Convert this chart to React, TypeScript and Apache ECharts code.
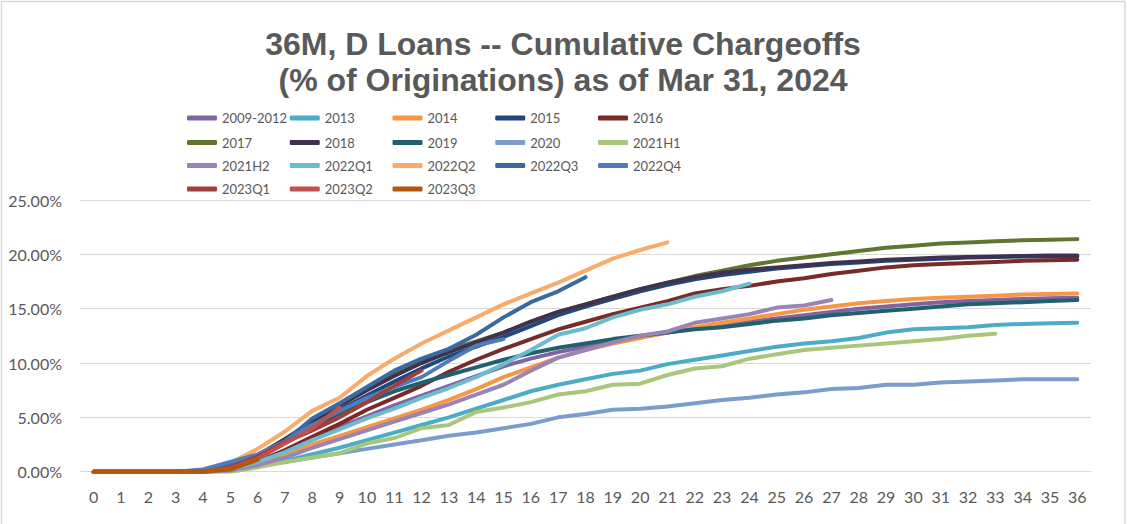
import React, { useEffect, useRef } from "react";
import * as echarts from "echarts";

const months = Array.from({ length: 37 }, (_, i) => String(i));

const s2009_2012 = [0,0,0,0,0,0.2,0.9,1.9,3.0,4.1,5.1,6.1,7.0,7.9,8.8,9.7,10.4,11.0,11.5,12.0,12.4,12.8,13.2,13.5,13.8,14.1,14.4,14.7,15.0,15.2,15.4,15.6,15.7,15.8,15.9,15.95,16.0];
const s2013 = [0,0,0,0,0,0.1,0.5,1.0,1.6,2.2,2.9,3.6,4.3,5.0,5.8,6.6,7.4,8.0,8.5,9.0,9.3,9.9,10.3,10.7,11.1,11.5,11.8,12.0,12.3,12.8,13.1,13.2,13.3,13.5,13.6,13.65,13.7];
const s2014 = [0,0,0,0,0,0.2,0.8,1.6,2.5,3.3,4.1,4.9,5.7,6.6,7.6,8.7,9.6,10.5,11.2,11.8,12.3,12.8,13.3,13.7,14.1,14.5,14.9,15.2,15.5,15.7,15.9,16.0,16.1,16.2,16.3,16.35,16.4];
const s2015 = [0,0,0,0,0,0.3,1.3,2.7,4.2,5.7,7.0,8.3,9.5,10.6,11.5,12.4,13.4,14.4,15.2,15.9,16.6,17.2,17.7,18.1,18.4,18.7,18.9,19.1,19.25,19.4,19.5,19.6,19.7,19.75,19.8,19.8,19.8];
const s2016 = [0,0,0,0,0,0.2,0.9,2.0,3.2,4.4,5.7,6.8,7.9,9.2,10.3,11.3,12.2,13.1,13.8,14.5,15.1,15.7,16.4,16.8,17.1,17.5,17.8,18.2,18.5,18.8,19.0,19.1,19.2,19.3,19.4,19.45,19.5];
const s2017 = [0,0,0,0,0,0.4,1.5,3.0,4.6,6.1,7.6,9.0,10.3,11.2,12.0,12.8,13.8,14.7,15.4,16.1,16.8,17.4,18.0,18.5,19.0,19.4,19.7,20.0,20.3,20.6,20.8,21.0,21.1,21.2,21.3,21.35,21.4];
const s2018 = [0,0,0,0,0,0.4,1.5,3.0,4.6,6.1,7.5,8.8,10.0,11.0,11.9,12.8,13.8,14.7,15.4,16.1,16.8,17.4,17.9,18.3,18.6,18.8,19.0,19.2,19.35,19.5,19.6,19.7,19.75,19.8,19.85,19.9,19.9];
const s2019 = [0,0,0,0,0.1,0.5,1.5,2.8,4.1,5.3,6.4,7.4,8.2,8.9,9.6,10.3,10.9,11.4,11.8,12.2,12.5,12.8,13.1,13.3,13.6,13.9,14.1,14.4,14.6,14.8,15.0,15.2,15.4,15.5,15.6,15.7,15.8];
const s2020 = [0,0,0,0,0,0.1,0.5,0.9,1.3,1.7,2.1,2.5,2.9,3.3,3.6,4.0,4.4,5.0,5.3,5.7,5.8,6.0,6.3,6.6,6.8,7.1,7.3,7.6,7.7,8.0,8.0,8.2,8.3,8.4,8.5,8.5,8.5];
const s2021H1 = [0,0,0,0,0,0.0,0.4,0.9,1.3,1.7,2.6,3.1,4.0,4.3,5.5,5.9,6.4,7.1,7.4,8.0,8.1,8.9,9.5,9.7,10.4,10.8,11.2,11.4,11.6,11.8,12.0,12.2,12.5,12.7];
const s2021H2 = [0,0,0,0,0,0.1,0.6,1.3,2.2,3.0,3.8,4.6,5.4,6.2,7.1,8.0,9.3,10.5,11.2,11.9,12.5,12.9,13.7,14.1,14.5,15.1,15.3,15.8];
const s2022Q1 = [0,0,0,0,0,0.2,0.9,1.8,2.9,3.9,4.9,5.8,6.8,7.7,8.7,9.9,11.2,12.6,13.2,14.2,14.9,15.4,16.1,16.6,17.3];
const s2022Q2 = [0,0,0,0,0.1,0.8,2.1,3.7,5.6,6.8,8.8,10.4,11.8,13.0,14.2,15.4,16.4,17.4,18.5,19.6,20.4,21.1];
const s2022Q3 = [0,0,0,0,0.1,0.6,1.5,2.8,4.9,6.3,7.8,9.3,10.4,11.3,12.6,14.2,15.6,16.6,17.9];
const s2022Q4 = [0,0,0,0,0.2,0.9,1.6,2.8,4.3,5.6,6.8,7.8,8.7,10.2,11.6,12.2];
const s2023Q1 = [0,0,0,0,0,0.4,1.4,2.7,3.8,5.0,6.4,7.9,9.3];
const s2023Q2 = [0,0,0,0,0,0.3,1.2,2.6,4.0,5.9];
const s2023Q3 = [0,0,0,0,0,0.2,1.1];

const seriesNames = ["2009-2012","2013","2014","2015","2016","2017","2018","2019","2020","2021H1","2021H2","2022Q1","2022Q2","2022Q3","2022Q4","2023Q1","2023Q2","2023Q3"];
const seriesData = [s2009_2012,s2013,s2014,s2015,s2016,s2017,s2018,s2019,s2020,s2021H1,s2021H2,s2022Q1,s2022Q2,s2022Q3,s2022Q4,s2023Q1,s2023Q2,s2023Q3];
const seriesColors = ["#8064A2","#4BACC6","#F79646","#1F497D","#772C2A","#5F7530","#403151","#22606F","#7B9DCB","#A9C77A","#9985B5","#6CBCD0","#F9AB6C","#3A6A9F","#4D7EBB","#A13F3C","#C0504D","#B3580A"];
const yTicks = [0, 5, 10, 15, 20, 25];

const titleText = "36M, D Loans -- Cumulative Chargeoffs\n(% of Originations) as of Mar 31, 2024";
const FONT = "Lato, sans-serif";

export default function App() {
  const ref = useRef<HTMLDivElement>(null);
  useEffect(() => {
    if (!ref.current) return;
    const chart = echarts.init(ref.current, undefined, { renderer: "svg" });
    const rowTops = [104, 128.5, 151.5, 175];
    const legends = [0, 1, 2, 3].map((r) => ({
      left: 182,
      top: rowTops[r],
      orient: "horizontal",
      itemWidth: 30,
      itemHeight: 5,
      itemGap: 0,
      icon: "roundRect",
      data: seriesNames.slice(r * 5, r * 5 + 5),
      textStyle: {
        color: "#595959",
        fontSize: 13,
        fontFamily: FONT,
        width: 67.75,
        lineHeight: 18,
      },
    }));
    chart.setOption({
      animation: false,
      backgroundColor: "#ffffff",
      title: {
        text: titleText,
        left: 558,
        textAlign: "center",
        top: 21,
        textStyle: {
          color: "#595959",
          fontSize: 32,
          fontWeight: "bold",
          fontFamily: "'Liberation Sans', Arial, sans-serif",
          lineHeight: 36,
        },
      },
      legend: legends,
      grid: { left: 80, right: 36, top: 200, bottom: 52.3, containLabel: false },
      xAxis: {
        type: "category",
        data: months,
        boundaryGap: true,
        axisLine: { show: true, lineStyle: { color: "#D9D9D9", width: 1 } },
        axisTick: { show: false },
        axisLabel: { color: "#595959", fontSize: 16, fontFamily: FONT, margin: 17, interval: 0 },
        splitLine: { show: false },
      },
      yAxis: {
        type: "value",
        min: yTicks[0],
        max: yTicks[yTicks.length - 1],
        interval: 5,
        axisLine: { show: false },
        axisTick: { show: false },
        axisLabel: {
          color: "#595959",
          fontSize: 16,
          fontFamily: FONT,
          margin: 18,
          formatter: (v: number) => v.toFixed(2) + "%",
        },
        splitLine: { show: true, lineStyle: { color: "#D9D9D9", width: 1 } },
      },
      graphic: [
        {
          type: "rect",
          silent: true,
          shape: { x: 1.5, y: 1.5, width: 1123.5, height: 1021, r: 0 },
          style: { fill: "none", stroke: "#D9D9D9", lineWidth: 1.5 },
        },
      ],
      series: seriesNames.map((name, i) => ({
        name,
        type: "line",
        data: seriesData[i],
        showSymbol: false,
        symbol: "none",
        smooth: false,
        color: seriesColors[i],
        lineStyle: { width: 4, color: seriesColors[i], cap: "round", join: "round" },
        emphasis: { disabled: true },
      })),
    });
    return () => chart.dispose();
  }, []);
  return (
    <div
      ref={ref}
      style={{ position: "fixed", left: 0, top: 0, width: 1127, height: 524 }}
    />
  );
}
